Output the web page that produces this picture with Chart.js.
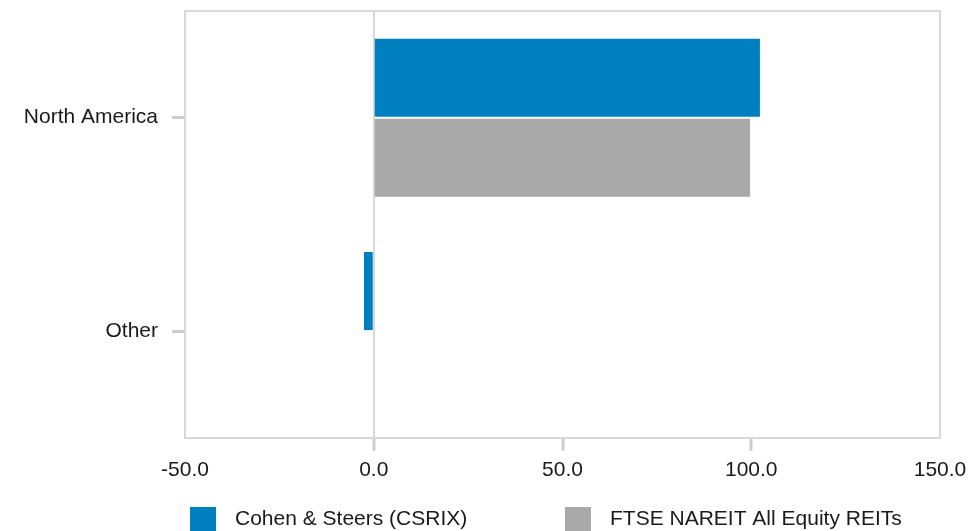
<!DOCTYPE html>
<html>
<head>
<meta charset="utf-8">
<script src="https://cdn.jsdelivr.net/npm/chart.js@4/dist/chart.umd.min.js"></script>
<style>
html,body{margin:0;padding:0;background:#ffffff;}
#wrap{width:968px;height:531px;}
</style>
</head>
<body>
<div id="wrap"><canvas id="c" width="968" height="531"></canvas></div>
<script>
// ---- data ----
const categories = ['North America', 'Other'];
const seriesNames = ['Cohen & Steers (CSRIX)', 'FTSE NAREIT All Equity REITs'];
const csrixValues = [102.3, -2.6];
const ftseValues = [99.7, 0];
const xTickValues = [-50, 0, 50, 100, 150];

// ---- styles ----
const BLUE = '#0080c0';
const GREY = '#a9a9a9';
const LINE = '#d9d9d9';
const TICK = '#c8cdd2';
const TEXT = '#1a1a1a';
const FONT = '"Liberation Sans", Arial, sans-serif';

Chart.defaults.font.family = FONT;
Chart.defaults.font.size = 21;
Chart.defaults.color = TEXT;

function noEdgePadding(scale) {
  scale.paddingTop = 0;
  scale.paddingBottom = 0;
  scale.paddingLeft = 0;
  scale.paddingRight = 0;
}

const plotBox = {
  id: 'plotBox',
  beforeDatasetsDraw(chart) {
    const {ctx, chartArea: a} = chart;
    ctx.save();
    ctx.strokeStyle = LINE;
    ctx.lineWidth = 2;
    ctx.strokeRect(Math.round(a.left), Math.round(a.top), Math.round(a.right - a.left), Math.round(a.bottom - a.top));
    ctx.restore();
  }
};

const bottomLegend = {
  id: 'bottomLegend',
  afterDraw(chart, args, opts) {
    const ctx = chart.ctx;
    ctx.save();
    ctx.font = '21px ' + FONT;
    ctx.textAlign = 'left';
    ctx.textBaseline = 'alphabetic';
    chart.data.datasets.forEach((ds, i) => {
      const x = opts.starts[i];
      ctx.fillStyle = ds.backgroundColor;
      ctx.fillRect(x, opts.boxTop, opts.box, opts.box);
      ctx.fillStyle = TEXT;
      ctx.fillText(ds.label, x + opts.box + opts.gap, opts.baseline);
    });
    ctx.restore();
  }
};

new Chart(document.getElementById('c'), {
  type: 'bar',
  data: {
    labels: categories,
    datasets: [
      {label: seriesNames[0], data: csrixValues, backgroundColor: BLUE, categoryPercentage: 0.75, barPercentage: 0.975},
      {label: seriesNames[1], data: ftseValues, backgroundColor: GREY, categoryPercentage: 0.75, barPercentage: 0.975}
    ]
  },
  options: {
    indexAxis: 'y',
    responsive: false,
    animation: false,
    layout: {padding: {top: 11, right: 28, bottom: 41, left: 0}},
    plugins: {
      legend: {display: false},
      tooltip: {enabled: false},
      bottomLegend: {starts: [190, 565], box: 26, gap: 19, boxTop: 507, baseline: 525}
    },
    scales: {
      x: {
        min: -50,
        max: 150,
        afterBuildTicks(scale) { scale.ticks = xTickValues.map(v => ({value: v})); },
        afterFit: noEdgePadding,
        ticks: {
          callback: v => Number(v).toFixed(1),
          padding: 7,
          maxRotation: 0,
          autoSkip: false,
          color: TEXT,
          font: {size: 21}
        },
        grid: {
          color: c => (c.tick && c.tick.value === 0) ? LINE : 'rgba(0,0,0,0)',
          lineWidth: 2,
          tickLength: 13,
          tickWidth: 3,
          tickColor: c => (c.tick && c.tick.value > xTickValues[0] && c.tick.value < xTickValues[xTickValues.length - 1]) ? TICK : 'rgba(0,0,0,0)'
        },
        border: {display: false}
      },
      y: {
        type: 'category',
        afterFit(scale) { scale.width = 185; noEdgePadding(scale); },
        ticks: {padding: 14, color: TEXT, font: {size: 21}},
        grid: {
          offset: false,
          drawOnChartArea: false,
          tickLength: 13,
          tickWidth: 3,
          tickColor: TICK
        },
        border: {display: false}
      }
    }
  },
  plugins: [plotBox, bottomLegend]
});
</script>
</body>
</html>
